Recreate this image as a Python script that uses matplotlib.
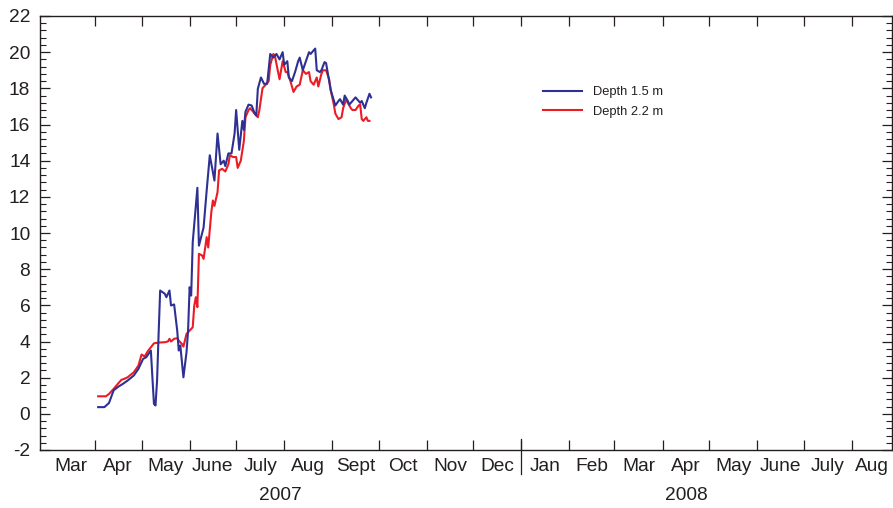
import matplotlib
matplotlib.use("Agg")
import matplotlib.pyplot as plt
import matplotlib.dates as mdates
import matplotlib.transforms as mtransforms
from matplotlib.ticker import MultipleLocator
from matplotlib.lines import Line2D
import pandas as pd

plt.rcParams["font.family"] = ["Liberation Sans", "DejaVu Sans"]
plt.rcParams["axes.unicode_minus"] = False

# ---------------- data ----------------
blue_dates = ["2007-04-03", "2007-04-07", "2007-04-10", "2007-04-13", "2007-04-16", "2007-04-19",
              "2007-04-22", "2007-04-26", "2007-04-29", "2007-05-02", "2007-05-04", "2007-05-07",
              "2007-05-08", "2007-05-09", "2007-05-10", "2007-05-11", "2007-05-12", "2007-05-13",
              "2007-05-16", "2007-05-17", "2007-05-19", "2007-05-20", "2007-05-22", "2007-05-24",
              "2007-05-25", "2007-05-26", "2007-05-28", "2007-05-30", "2007-05-31", "2007-06-01",
              "2007-06-02", "2007-06-03", "2007-06-06", "2007-06-07", "2007-06-10", "2007-06-12",
              "2007-06-14", "2007-06-17", "2007-06-19", "2007-06-21", "2007-06-23", "2007-06-24",
              "2007-06-26", "2007-06-28", "2007-06-30", "2007-07-01", "2007-07-03", "2007-07-05",
              "2007-07-06", "2007-07-07", "2007-07-09", "2007-07-11", "2007-07-13", "2007-07-14",
              "2007-07-15", "2007-07-17", "2007-07-19", "2007-07-21", "2007-07-23", "2007-07-25",
              "2007-07-27", "2007-07-29", "2007-07-31", "2007-08-01", "2007-08-03", "2007-08-04",
              "2007-08-06", "2007-08-08", "2007-08-10", "2007-08-11", "2007-08-13", "2007-08-17",
              "2007-08-18", "2007-08-21", "2007-08-22", "2007-08-24", "2007-08-25", "2007-08-27",
              "2007-08-28", "2007-08-29", "2007-08-31", "2007-09-03", "2007-09-05", "2007-09-06",
              "2007-09-08", "2007-09-09", "2007-09-11", "2007-09-12", "2007-09-14", "2007-09-16",
              "2007-09-17", "2007-09-19", "2007-09-20", "2007-09-22", "2007-09-23", "2007-09-25",
              "2007-09-26"]
blue_vals = [0.37, 0.37, 0.6, 1.3, 1.5, 1.66,
             1.84, 2.12, 2.49, 3.04, 3.13, 3.5,
             2.0, 0.55, 0.46, 1.84, 4.42, 6.82,
             6.64, 6.45, 6.82, 5.99, 6.05, 4.6,
             3.5, 3.78, 2.02, 3.41, 4.6, 7.0,
             6.54, 9.49, 12.5, 9.3, 10.3, 12.35,
             14.3, 12.9, 15.5, 13.8, 14.0, 13.7,
             14.4, 14.4, 15.5, 16.8, 14.6, 16.2,
             15.7, 16.7, 17.1, 17.05, 16.6, 16.5,
             17.98, 18.6, 18.25, 18.25, 19.9, 19.7,
             19.9, 19.6, 20.0, 19.3, 19.5, 18.6,
             18.4, 18.9, 19.5, 19.7, 19.0, 20.0,
             19.9, 20.2, 19.0, 18.9, 19.0, 19.45,
             19.4, 18.9, 17.9, 17.05, 17.3, 17.4,
             17.1, 17.6, 17.3, 17.1, 17.3, 17.5,
             17.4, 17.2, 17.3, 16.9, 17.2, 17.7,
             17.5]

red_dates = ["2007-04-03", "2007-04-08", "2007-04-10", "2007-04-13", "2007-04-16", "2007-04-18",
             "2007-04-20", "2007-04-22", "2007-04-26", "2007-04-29", "2007-05-01", "2007-05-03",
             "2007-05-05", "2007-05-07", "2007-05-09", "2007-05-12", "2007-05-16", "2007-05-18",
             "2007-05-19", "2007-05-20", "2007-05-22", "2007-05-24", "2007-05-25", "2007-05-27",
             "2007-05-28", "2007-05-30", "2007-06-01", "2007-06-03", "2007-06-04", "2007-06-05",
             "2007-06-06", "2007-06-07", "2007-06-09", "2007-06-10", "2007-06-12", "2007-06-13",
             "2007-06-15", "2007-06-16", "2007-06-17", "2007-06-19", "2007-06-20", "2007-06-22",
             "2007-06-24", "2007-06-26", "2007-06-27", "2007-06-29", "2007-07-01", "2007-07-02",
             "2007-07-04", "2007-07-06", "2007-07-07", "2007-07-09", "2007-07-10", "2007-07-12",
             "2007-07-15", "2007-07-16", "2007-07-18", "2007-07-20", "2007-07-22", "2007-07-23",
             "2007-07-25", "2007-07-26", "2007-07-27", "2007-07-29", "2007-07-31", "2007-08-02",
             "2007-08-03", "2007-08-05", "2007-08-07", "2007-08-09", "2007-08-11", "2007-08-13",
             "2007-08-15", "2007-08-17", "2007-08-18", "2007-08-20", "2007-08-22", "2007-08-23",
             "2007-08-25", "2007-08-26", "2007-08-28", "2007-08-30", "2007-08-31", "2007-09-02",
             "2007-09-03", "2007-09-05", "2007-09-07", "2007-09-08", "2007-09-10", "2007-09-11",
             "2007-09-13", "2007-09-14", "2007-09-16", "2007-09-18", "2007-09-19", "2007-09-20",
             "2007-09-21", "2007-09-23", "2007-09-24", "2007-09-25"]
red_vals = [0.97, 0.97, 1.1, 1.38, 1.69, 1.88,
            1.94, 2.02, 2.3, 2.67, 3.28, 3.17,
            3.46, 3.68, 3.9, 3.94, 3.96, 4.0,
            4.15, 4.0, 4.15, 4.18, 4.05, 3.87,
            3.72, 4.42, 4.6, 4.79, 5.99, 6.45,
            5.9, 8.85, 8.76, 8.57, 9.77, 9.2,
            11.15, 11.8, 11.5, 12.26, 13.46, 13.55,
            13.4, 13.8, 14.3, 14.2, 14.2, 13.6,
            14.0, 15.1, 16.4, 16.8, 16.9, 16.7,
            16.4, 16.8, 18.0, 18.2, 18.4, 19.3,
            19.9, 19.8, 19.35, 18.5, 19.5, 18.9,
            18.9, 18.4, 17.8, 18.1, 18.2, 19.0,
            18.8, 18.9, 18.4, 18.2, 18.6, 18.1,
            18.8, 19.0, 19.0, 18.5, 17.9, 17.1,
            16.6, 16.3, 16.4, 16.9, 17.4, 17.2,
            16.9, 16.8, 16.8, 17.05, 17.1, 16.3,
            16.2, 16.4, 16.2, 16.2]

month_labels = ["Mar", "Apr", "May", "June", "July", "Aug", "Sept", "Oct", "Nov", "Dec",
                "Jan", "Feb", "Mar", "Apr", "May", "June", "July", "Aug"]
year_labels = ["2007", "2008"]
series_names = ["Depth 1.5 m", "Depth 2.2 m"]

# ---------------- figure ----------------
W, H = 893, 508
fig = plt.figure(figsize=(W / 100, H / 100), dpi=100)
ax = fig.add_axes([40 / W, 1 - 450 / H, 852 / W, 434 / H])

ink = "#231f20"
blue = "#2e3192"
red = "#ed1c24"

bd = mdates.date2num(pd.to_datetime(blue_dates))
rd = mdates.date2num(pd.to_datetime(red_dates))
ax.plot(bd, blue_vals, color=blue, lw=1.5, label=series_names[0], zorder=3)
ax.plot(rd, red_vals, color=red, lw=1.5, label=series_names[1], zorder=2)

x0 = mdates.date2num(pd.Timestamp("2007-03-01")) - 4.5
x1 = mdates.date2num(pd.Timestamp("2008-08-01")) + 26
ax.set_xlim(x0, x1)
ax.set_ylim(-2, 22)

for s in ax.spines.values():
    s.set_color(ink)
    s.set_linewidth(1.0)

# y ticks
ax.set_yticks(range(-2, 23, 2))
ax.yaxis.set_minor_locator(MultipleLocator(0.4))
ax.tick_params(axis="y", which="major", direction="in", left=True, right=True,
               length=7.5, width=0.9, color=ink, labelsize=13.8, labelcolor=ink, pad=7)
ax.tick_params(axis="y", which="minor", direction="in", left=True, right=True,
               length=4, width=0.8, color=ink)

# x ticks at month boundaries
month_starts = pd.date_range("2007-03-01", "2008-09-01", freq="MS")
tick_pos = [mdates.date2num(m) for m in month_starts if x0 + 6 < mdates.date2num(m) < x1]
ax.set_xticks(tick_pos)
ax.set_xticklabels([])
ax.tick_params(axis="x", which="major", direction="in", top=True, bottom=True,
               length=7.5, width=0.9, color=ink)

trans = mtransforms.blended_transform_factory(ax.transData, ax.transAxes)
for i, lab in enumerate(month_labels):
    a = max(mdates.date2num(month_starts[i]), x0)
    b = min(mdates.date2num(month_starts[i + 1]), x1)
    ax.text((a + b) / 2, -0.039, lab, transform=trans, ha="center", va="center",
            fontsize=13.8, color=ink)

jan = mdates.date2num(pd.Timestamp("2008-01-01"))
aug = mdates.date2num(pd.Timestamp("2008-08-01"))
ax.add_line(Line2D([jan, jan], [-0.055, 0.025], transform=trans, clip_on=False,
                   color=ink, lw=0.9))

ax.text((x0 + jan) / 2, -0.104, year_labels[0], transform=trans, ha="center",
        va="center", fontsize=13.8, color=ink)
ax.text((jan + aug) / 2, -0.104, year_labels[1], transform=trans, ha="center",
        va="center", fontsize=13.8, color=ink)

leg = ax.legend(loc="upper left", bbox_to_anchor=(543 / W, 1 - 86 / H),
                bbox_transform=fig.transFigure, frameon=False, borderpad=0,
                borderaxespad=0, handlelength=3.0, handletextpad=0.85,
                labelspacing=0.6, prop={"size": 9.3})
for t in leg.get_texts():
    t.set_color(ink)

fig.savefig("out.png", dpi=100)
